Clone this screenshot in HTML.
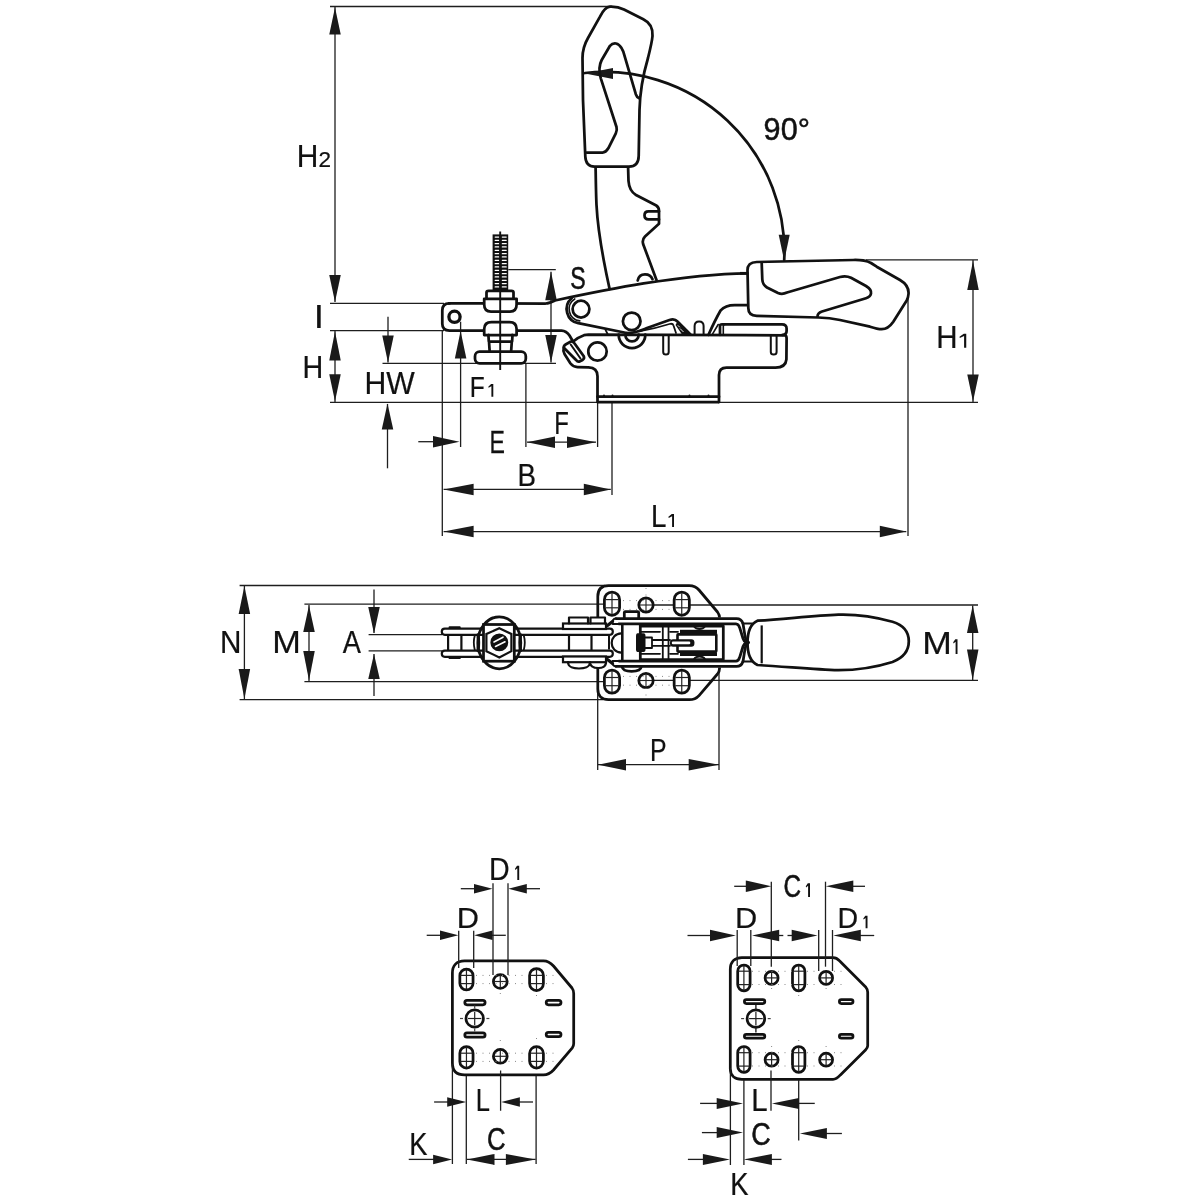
<!DOCTYPE html>
<html><head><meta charset="utf-8"><style>
html,body{margin:0;padding:0;background:#fff;}
svg{display:block;}
text{font-family:"Liberation Sans",sans-serif;}
</style></head><body>
<svg width="1200" height="1200" viewBox="0 0 1200 1200">
<rect width="1200" height="1200" fill="#fff"/>
<line x1="330" y1="6.5" x2="612" y2="6.5" stroke="#1e1e1e" stroke-width="1.3"/>
<line x1="335" y1="6.5" x2="335" y2="302" stroke="#1e1e1e" stroke-width="1.3"/>
<polygon points="335.00,7.50 329.25,34.50 340.75,34.50" fill="#1a1a1a"/>
<polygon points="335.00,302.00 329.25,275.00 340.75,275.00" fill="#1a1a1a"/>
<line x1="330" y1="303.4" x2="444" y2="303.4" stroke="#1e1e1e" stroke-width="1.3"/>
<line x1="330" y1="330.6" x2="444" y2="330.6" stroke="#1e1e1e" stroke-width="1.3"/>
<line x1="335" y1="330.6" x2="335" y2="402.3" stroke="#1e1e1e" stroke-width="1.3"/>
<polygon points="335.00,331.50 329.25,360.50 340.75,360.50" fill="#1a1a1a"/>
<polygon points="335.00,401.30 329.25,374.30 340.75,374.30" fill="#1a1a1a"/>
<line x1="330" y1="402.3" x2="978" y2="402.3" stroke="#1e1e1e" stroke-width="1.3"/>
<line x1="388" y1="316.7" x2="388" y2="362.5" stroke="#1e1e1e" stroke-width="1.3"/>
<polygon points="388.00,362.50 382.25,335.50 393.75,335.50" fill="#1a1a1a"/>
<line x1="382.5" y1="363.4" x2="556" y2="363.4" stroke="#1e1e1e" stroke-width="1.3"/>
<line x1="387.5" y1="404" x2="387.5" y2="468.3" stroke="#1e1e1e" stroke-width="1.3"/>
<polygon points="387.50,403.50 381.75,429.50 393.25,429.50" fill="#1a1a1a"/>
<line x1="460.6" y1="321.7" x2="460.6" y2="447" stroke="#1e1e1e" stroke-width="1.3"/>
<polygon points="460.60,331.00 454.85,358.50 466.35,358.50" fill="#1a1a1a"/>
<line x1="442.3" y1="330.6" x2="442.3" y2="536" stroke="#1e1e1e" stroke-width="1.3"/>
<line x1="418.3" y1="441.7" x2="433" y2="441.7" stroke="#1e1e1e" stroke-width="1.3"/>
<polygon points="459.50,441.70 433.00,435.95 433.00,447.45" fill="#1a1a1a"/>
<line x1="525.9" y1="363.4" x2="525.9" y2="447" stroke="#1e1e1e" stroke-width="1.3"/>
<line x1="597.6" y1="402" x2="597.6" y2="447" stroke="#1e1e1e" stroke-width="1.3"/>
<line x1="527" y1="442.2" x2="596" y2="442.2" stroke="#1e1e1e" stroke-width="1.3"/>
<polygon points="527.00,442.20 555.00,436.45 555.00,447.95" fill="#1a1a1a"/>
<polygon points="596.00,442.20 567.00,436.45 567.00,447.95" fill="#1a1a1a"/>
<line x1="443.6" y1="489.4" x2="610.8" y2="489.4" stroke="#1e1e1e" stroke-width="1.3"/>
<polygon points="443.60,489.40 473.60,483.65 473.60,495.15" fill="#1a1a1a"/>
<polygon points="610.80,489.40 583.80,483.65 583.80,495.15" fill="#1a1a1a"/>
<line x1="612" y1="402.6" x2="612" y2="495" stroke="#1e1e1e" stroke-width="1.3"/>
<line x1="443.6" y1="531.6" x2="906.3" y2="531.6" stroke="#1e1e1e" stroke-width="1.3"/>
<polygon points="443.60,531.60 473.60,525.85 473.60,537.35" fill="#1a1a1a"/>
<polygon points="906.30,531.60 879.80,525.85 879.80,537.35" fill="#1a1a1a"/>
<line x1="908" y1="298.5" x2="908" y2="536" stroke="#1e1e1e" stroke-width="1.3"/>
<line x1="866" y1="259.8" x2="978" y2="259.8" stroke="#1e1e1e" stroke-width="1.3"/>
<line x1="973" y1="260" x2="973" y2="402" stroke="#1e1e1e" stroke-width="1.3"/>
<polygon points="973.00,261.00 967.25,290.00 978.75,290.00" fill="#1a1a1a"/>
<polygon points="973.00,401.50 967.25,374.50 978.75,374.50" fill="#1a1a1a"/>
<line x1="508.3" y1="269.7" x2="555.8" y2="269.7" stroke="#1e1e1e" stroke-width="1.3"/>
<line x1="551" y1="271.7" x2="551" y2="362.5" stroke="#1e1e1e" stroke-width="1.3"/>
<polygon points="551.00,271.70 545.25,300.20 556.75,300.20" fill="#1a1a1a"/>
<polygon points="551.00,362.50 545.25,335.00 556.75,335.00" fill="#1a1a1a"/>
<path d="M585,73 A180 180 0 0 1 784.2,260" stroke="#111" stroke-width="2.75" fill="none" stroke-linejoin="round" stroke-linecap="round" />
<polygon points="585,73.5 613,68 613,79" fill="#1a1a1a"/>
<polygon points="784.20,260.80 778.70,234.80 789.70,234.80" fill="#1a1a1a"/>
<g fill="#111" font-family="Liberation Sans, sans-serif" style="will-change:transform">
<text transform="matrix(0.2991,0,0,0.3225,296.86,166.50)" font-size="100" stroke="#111" stroke-width="0.71">H</text>
<text transform="matrix(0.2253,0,0,0.2214,318.62,166.50)" font-size="100" stroke="#111" stroke-width="0.98">2</text>
<text transform="matrix(0.3684,0,0,0.3261,313.68,327.50)" font-size="100" stroke="#111" stroke-width="0.63">I</text>
<text transform="matrix(0.2875,0,0,0.3087,302.40,378.00)" font-size="100" stroke="#111" stroke-width="0.74">H</text>
<text transform="matrix(0.3019,0,0,0.3145,364.58,393.70)" font-size="100" stroke="#111" stroke-width="0.71">HW</text>
<text transform="matrix(0.2449,0,0,0.3029,469.74,396.70)" font-size="100" stroke="#111" stroke-width="0.80">F</text>
<path d="M491.10,384.00 L493.30,384.00 L493.30,396.70 L491.40,396.70 L491.40,386.16 L488.60,387.81 L488.30,386.67 Z" fill="#111"/>
<text transform="matrix(0.2313,0,0,0.3183,570.16,288.68)" font-size="100" stroke="#111" stroke-width="1.82">S</text>
<text transform="matrix(0.3060,0,0,0.3056,763.62,139.69)" font-size="100" stroke="#111" stroke-width="1.63">90°</text>
<text transform="matrix(0.2946,0,0,0.3217,936.14,347.70)" font-size="100" stroke="#111" stroke-width="0.71">H</text>
<path d="M963.79,333.75 L966.25,333.75 L966.25,347.70 L964.09,347.70 L964.09,336.12 L959.80,337.94 L959.50,336.68 Z" fill="#111"/>
<text transform="matrix(0.2312,0,0,0.3145,489.55,452.50)" font-size="100" stroke="#111" stroke-width="0.81">E</text>
<text transform="matrix(0.2388,0,0,0.3123,554.29,434.30)" font-size="100" stroke="#111" stroke-width="0.80">F</text>
<text transform="matrix(0.2776,0,0,0.3116,517.53,485.90)" font-size="100" stroke="#111" stroke-width="0.75">B</text>
<text transform="matrix(0.2775,0,0,0.3080,651.03,527.00)" font-size="100" stroke="#111" stroke-width="0.75">L</text>
<path d="M671.80,514.00 L674.00,514.00 L674.00,527.00 L672.10,527.00 L672.10,516.21 L668.70,517.90 L668.40,516.73 Z" fill="#111"/>
<text transform="matrix(0.2964,0,0,0.3130,220.03,652.60)" font-size="100" stroke="#111" stroke-width="0.72">N</text>
<text transform="matrix(0.3433,0,0,0.3130,272.25,652.60)" font-size="100" stroke="#111" stroke-width="0.67">M</text>
<text transform="matrix(0.2727,0,0,0.3130,342.86,652.60)" font-size="100" stroke="#111" stroke-width="0.75">A</text>
<text transform="matrix(0.3552,0,0,0.3145,922.16,653.90)" font-size="100" stroke="#111" stroke-width="0.66">M</text>
<path d="M955.30,639.20 L957.50,639.20 L957.50,653.90 L955.60,653.90 L955.60,641.70 L953.50,643.61 L953.20,642.29 Z" fill="#111"/>
<text transform="matrix(0.2486,0,0,0.3101,650.01,760.70)" font-size="100" stroke="#111" stroke-width="0.79">P</text>
<text transform="matrix(0.2857,0,0,0.3145,489.01,880.00)" font-size="100" stroke="#111" stroke-width="0.73">D</text>
<path d="M517.00,865.80 L519.20,865.80 L519.20,880.00 L517.30,880.00 L517.30,868.21 L515.30,870.06 L515.00,868.78 Z" fill="#111"/>
<text transform="matrix(0.3076,0,0,0.3014,456.74,927.50)" font-size="100" stroke="#111" stroke-width="0.72">D</text>
<text transform="matrix(0.2551,0,0,0.3043,475.86,1110.75)" font-size="100" stroke="#111" stroke-width="0.79">L</text>
<text transform="matrix(0.2579,0,0,0.3077,487.11,1149.79)" font-size="100" stroke="#111" stroke-width="1.77">C</text>
<text transform="matrix(0.2730,0,0,0.3043,409.22,1154.50)" font-size="100" stroke="#111" stroke-width="0.76">K</text>
<text transform="matrix(0.2429,0,0,0.3099,783.49,896.69)" font-size="100" stroke="#111" stroke-width="1.81">C</text>
<path d="M807.80,883.30 L810.00,883.30 L810.00,897.00 L808.10,897.00 L808.10,885.63 L806.10,887.41 L805.80,886.18 Z" fill="#111"/>
<text transform="matrix(0.3076,0,0,0.3014,735.04,928.30)" font-size="100" stroke="#111" stroke-width="0.72">D</text>
<text transform="matrix(0.2857,0,0,0.3014,837.41,928.30)" font-size="100" stroke="#111" stroke-width="0.75">D</text>
<path d="M865.30,915.80 L867.50,915.80 L867.50,928.30 L865.60,928.30 L865.60,917.92 L863.60,919.55 L863.30,918.42 Z" fill="#111"/>
<text transform="matrix(0.2944,0,0,0.3167,751.14,1110.75)" font-size="100" stroke="#111" stroke-width="0.72">L</text>
<text transform="matrix(0.2698,0,0,0.3085,751.25,1144.59)" font-size="100" stroke="#111" stroke-width="1.73">C</text>
<text transform="matrix(0.2739,0,0,0.3167,730.31,1194.75)" font-size="100" stroke="#111" stroke-width="0.75">K</text>
</g>
<path d="M610,6.7 C616,6.5 620,7.5 624,9.5 L643.3,19.2 C651,23 653,29 652.5,36 C652,42 650,50 648,58 C643,75 640,90 639.5,110 L638.7,156 C638.6,162.5 635.5,166.6 629,166.6 L594.5,166.6 C588.8,166.6 585.6,163 585.3,156.5 L583,100 L582.5,58 C582.5,50 584.5,44 588,38 L600,16.7 C603,10.5 606,7 610,6.7 Z" stroke="#111" stroke-width="2.75" fill="none" stroke-linejoin="round" stroke-linecap="round" />
<path d="M586.7,152.5 L602.5,152.5 C605,152.5 607,150.5 608.3,148.3 L615.8,133.3 C617,131 617,129 616.5,127 L600.8,78.3 C599,72 598.5,66 601.7,60 L610,45.8 C612,43.5 614,43.2 616,43.5 C618.5,44 620,45.5 621.5,48 L623.3,51.7 L635.8,94.2 C636.5,96.3 638,97.8 639.2,98.3" stroke="#111" stroke-width="2.75" fill="none" stroke-linejoin="round" stroke-linecap="round" />
<path d="M595.6,167.5 C595.8,180 596,195 596.5,205 C597.5,225 601,250 609.6,289" stroke="#111" stroke-width="2.75" fill="none" stroke-linejoin="round" stroke-linecap="round" />
<path d="M628.1,167.5 L628.5,181 C629,188 631,192 636,195 L656.25,205.5 C658.5,207 659,208.5 659,211 L659,223.75 L645,236.5 C642.5,239 642.3,241 643.1,244 L656.5,280" stroke="#111" stroke-width="2.75" fill="none" stroke-linejoin="round" stroke-linecap="round" />
<path d="M659,211.3 L648.5,211.3 C645.5,211.3 644.5,213 644.5,215.3 C644.5,217.8 645.5,219.4 648.5,219.4 L659,219.4" stroke="#111" stroke-width="2.75" fill="none" stroke-linejoin="round" stroke-linecap="round" />
<path d="M637.7,280.5 C638.5,276.5 641.5,274.3 645,274.3 C648.5,274.3 651.5,276.5 652.5,279.2" stroke="#111" stroke-width="2.75" fill="none" stroke-linejoin="round" stroke-linecap="round" />
<path d="M756.7,262 L853.3,260 C860,259.8 866,260.5 871,263 L876.7,266.7 L900,280 C906,283.5 909,288 908.5,294 C908.3,297 907.5,299 906.7,300.5 L893.3,321.7 C890,326.5 886,329.2 881.7,329.2 C878,329.2 874,328 870,326.7 L840,320 C833,318.5 826,317.7 818.3,317.5 L756.7,315.8 C751,315.6 748.3,313 748.3,308 L747.5,270 C747.5,265 751,262.2 756.7,262 Z" stroke="#111" stroke-width="2.75" fill="none" stroke-linejoin="round" stroke-linecap="round" />
<path d="M761.7,263.3 L762.3,279.5 C762.5,283 764,285.5 767,287.5 L778,293 C781,294.3 784,294 787,292.5 L840,277 C844,275.8 847.5,276 851,277.8 L866,286 C870,288.5 871.5,291 871,293.5 C870.5,296 868.5,297.5 866,298.3 L822,311.5 C819,312.5 817.5,314 817.5,316.5" stroke="#111" stroke-width="2.75" fill="none" stroke-linejoin="round" stroke-linecap="round" />
<path d="M449,303.4 L545.75,303.5 C549,303.4 551.5,302.3 555,300.5 C600,291 680,274 747.5,273.3" stroke="#111" stroke-width="2.75" fill="none" stroke-linejoin="round" stroke-linecap="round" />
<path d="M571.62,298.31 A14.3 14.3 0 0 0 578.27,323.14 L626.7,333" stroke="#111" stroke-width="2.75" fill="none" stroke-linejoin="round" stroke-linecap="round" />
<path d="M574.69,299.01 A11.9 11.9 0 0 0 579.76,320.93" stroke="#111" stroke-width="1.7" fill="none" stroke-linejoin="round" stroke-linecap="round" />
<path d="M449.5,303.4 C444.8,303.4 442.3,306.2 442.3,310.5 L442.3,323.8 C442.3,328.2 444.8,330.6 449.5,330.6 L561.5,330.6 C565,330.8 567.5,332.5 569.5,335.5 L573,341.5" stroke="#111" stroke-width="2.75" fill="none" stroke-linejoin="round" stroke-linecap="round" />
<circle cx="454.5" cy="316.8" r="5.6" stroke="#111" stroke-width="3.3" fill="none"/>
<circle cx="581" cy="309.1" r="8.4" stroke="#111" stroke-width="2.75" fill="none"/>
<circle cx="631.7" cy="321.3" r="8.8" stroke="#111" stroke-width="2.75" fill="none"/>
<circle cx="597.5" cy="351.5" r="9.2" stroke="#111" stroke-width="2.75" fill="none"/>
<path d="M618.7,334.6 C618.7,342.5 624.5,348 632,348 C639.5,348 645.3,342.5 645.3,334.6" stroke="#111" stroke-width="2.75" fill="none" stroke-linejoin="round" stroke-linecap="round" />
<path d="M625.3,334.6 C625.3,338.5 628.2,341.4 632,341.4 C635.8,341.4 638.7,338.5 638.7,334.6" stroke="#111" stroke-width="2.75" fill="none" stroke-linejoin="round" stroke-linecap="round" />
<path d="M626.7,333 C636,333 641,330.5 647,328 L669.5,320 C672.5,319 675.5,319.3 677.5,321.5 L690.5,334.5" stroke="#111" stroke-width="2.75" fill="none" stroke-linejoin="round" stroke-linecap="round" />
<path d="M640,331.2 C650,329.5 660,327 669.5,324 C671.5,323.5 673,323.8 673.5,325.5 L676,333" stroke="#111" stroke-width="1.8" fill="none" stroke-linejoin="round" stroke-linecap="round" />
<path d="M677.5,321.5 L690.5,334.5 L682,334.5 L675.5,325 Z" fill="#111"/>
<path d="M680,328.5 L683.5,332 M677.8,325.3 L679.8,327.3" stroke="#fff" stroke-width="0.9"/>
<path d="M605.5,329.8 L607.8,334.5" stroke="#111" stroke-width="1.8" fill="none" stroke-linejoin="round" stroke-linecap="round" />
<path d="M572.8,341.8 C576,339 580,336.5 584,335.2 L588.5,334.6 L785,335.3 C786.2,335.5 786.6,336.5 786.6,338.5 L786.4,359.3 C786,364.5 782,367.5 775.5,367.5 L726.5,367.5 C721.5,367.5 719,370.5 719,375 L719,402" stroke="#111" stroke-width="2.75" fill="none" stroke-linejoin="round" stroke-linecap="round" />
<path d="M563.8,347.8 C563,350 563.5,352 564.5,354 L570.5,363.5 C572.5,366 574.5,367 577.5,367.1 L588.5,367.3 C594,367.4 597.5,370.5 597.5,376.3 L597.5,402" stroke="#111" stroke-width="2.75" fill="none" stroke-linejoin="round" stroke-linecap="round" />
<path d="M563.8,347.8 C563.5,346 564.5,345 566,344.2 L570.5,341.8 C572,341.1 573.3,341.5 574.2,343 L583.6,356 C584.4,357.5 584,359 582.6,360 L580,361.3 C578.6,362 577.3,361.7 576.3,360.3 Z" stroke="#111" stroke-width="2.75" fill="none" stroke-linejoin="round" stroke-linecap="round" />
<path d="M570.7,344.5 L580.5,358.5" stroke="#111" stroke-width="2.0" fill="none" stroke-linejoin="round" stroke-linecap="round" />
<path d="M597.5,396.7 L719,396.7" stroke="#111" stroke-width="2.75" fill="none" stroke-linejoin="round" stroke-linecap="round" />
<g fill="#111"><circle cx="604" cy="395.6" r="1"/><circle cx="612.5" cy="395.6" r="1"/><circle cx="689.5" cy="395.6" r="1"/><circle cx="708.5" cy="395.6" r="1"/></g>
<line x1="597.5" y1="402.2" x2="719" y2="402.2" stroke="#111" stroke-width="2.75"/>
<path d="M720,334.8 L720,325.5 C720,324.6 720.8,324.3 722,324.3 L782,324.3 C785.5,324.3 786.6,325.8 786.6,328.5 L786.6,331 C786.6,333.5 785.5,334.8 782.5,334.8" stroke="#111" stroke-width="2.75" fill="none" stroke-linejoin="round" stroke-linecap="round" />
<path d="M723.3,334.5 L723.3,326.5 C723.3,325.2 724,324.5 725,324.5" stroke="#111" stroke-width="1.6" fill="none" stroke-linejoin="round" stroke-linecap="round" />
<path d="M663.2,335.8 L663.2,352 C663.2,353.8 664.5,354.5 666,354.5 C667.5,354.5 668.7,353.8 668.7,352 L668.7,335.8" stroke="#111" stroke-width="2.0" fill="none" stroke-linejoin="round" stroke-linecap="round" />
<path d="M770.8,335.8 L770.8,352 C770.8,353.8 772,354.5 773.7,354.5 C775.4,354.5 776.6,353.8 776.6,352 L776.6,335.8" stroke="#111" stroke-width="2.0" fill="none" stroke-linejoin="round" stroke-linecap="round" />
<path d="M694.6,334.8 L694.6,326 C694.6,323 696.5,321.4 699.1,321.4 C701.7,321.4 703.6,323 703.6,326 L703.6,334.8" stroke="#111" stroke-width="2.0" fill="none" stroke-linejoin="round" stroke-linecap="round" />
<path d="M708.5,334.8 C712,327 716,318.5 720.7,310.3 C724,306.5 728.5,305 734.7,305 L747.3,305" stroke="#111" stroke-width="2.75" fill="none" stroke-linejoin="round" stroke-linecap="round" />
<path d="M712,334.8 L718.2,324.5" stroke="#111" stroke-width="1.6" fill="none" stroke-linejoin="round" stroke-linecap="round" />
<line x1="740" y1="273.3" x2="747.5" y2="273.3" stroke="#111" stroke-width="2.75"/>
<rect x="492.6" y="234.4" width="15.6" height="56.4" fill="#111"/>
<g stroke="#fff" stroke-width="1.25" stroke-linecap="round">
<line x1="495.2" y1="237.00" x2="498.8" y2="237.00"/><line x1="502.3" y1="237.00" x2="506.2" y2="237.00"/>
<line x1="495.2" y1="240.33" x2="498.8" y2="240.33"/><line x1="502.3" y1="240.33" x2="506.2" y2="240.33"/>
<line x1="495.2" y1="243.66" x2="498.8" y2="243.66"/><line x1="502.3" y1="243.66" x2="506.2" y2="243.66"/>
<line x1="495.2" y1="246.99" x2="498.8" y2="246.99"/><line x1="502.3" y1="246.99" x2="506.2" y2="246.99"/>
<line x1="495.2" y1="250.32" x2="498.8" y2="250.32"/><line x1="502.3" y1="250.32" x2="506.2" y2="250.32"/>
<line x1="495.2" y1="253.65" x2="498.8" y2="253.65"/><line x1="502.3" y1="253.65" x2="506.2" y2="253.65"/>
<line x1="495.2" y1="256.98" x2="498.8" y2="256.98"/><line x1="502.3" y1="256.98" x2="506.2" y2="256.98"/>
<line x1="495.2" y1="260.31" x2="498.8" y2="260.31"/><line x1="502.3" y1="260.31" x2="506.2" y2="260.31"/>
<line x1="495.2" y1="263.64" x2="498.8" y2="263.64"/><line x1="502.3" y1="263.64" x2="506.2" y2="263.64"/>
<line x1="495.2" y1="266.97" x2="498.8" y2="266.97"/><line x1="502.3" y1="266.97" x2="506.2" y2="266.97"/>
<line x1="495.2" y1="270.30" x2="498.8" y2="270.30"/><line x1="502.3" y1="270.30" x2="506.2" y2="270.30"/>
<line x1="495.2" y1="273.63" x2="498.8" y2="273.63"/><line x1="502.3" y1="273.63" x2="506.2" y2="273.63"/>
<line x1="495.2" y1="276.96" x2="498.8" y2="276.96"/><line x1="502.3" y1="276.96" x2="506.2" y2="276.96"/>
<line x1="495.2" y1="280.29" x2="498.8" y2="280.29"/><line x1="502.3" y1="280.29" x2="506.2" y2="280.29"/>
<line x1="495.2" y1="283.62" x2="498.8" y2="283.62"/><line x1="502.3" y1="283.62" x2="506.2" y2="283.62"/>
<line x1="495.2" y1="286.95" x2="498.8" y2="286.95"/><line x1="502.3" y1="286.95" x2="506.2" y2="286.95"/>
</g>
<path d="M486.5,298.8 L486.5,292.5 C486.5,291.3 487.3,290.8 488.5,290.8 L511.5,290.8 C512.7,290.8 513.5,291.3 513.5,292.5 L513.5,298.8" stroke="#111" stroke-width="2.75" fill="#fff" stroke-linejoin="round" stroke-linecap="round" />
<path d="M484.2,298.8 L516.6,298.8 L516.6,304.5 C516.6,309 514.5,311.6 510,311.6 L491,311.6 C486.5,311.6 484.2,309 484.2,304.5 Z" stroke="#111" stroke-width="2.75" fill="#fff" stroke-linejoin="round" stroke-linecap="round" />
<path d="M484.2,335 L484.2,329 C484.2,324.5 487,322 491.5,322 L509.5,322 C514,322 516.6,324.5 516.6,329 L516.6,335 Z" stroke="#111" stroke-width="2.75" fill="#fff" stroke-linejoin="round" stroke-linecap="round" />
<path d="M488.4,335 L488.8,341.5 L512.1,341.5 L512.5,335 M489,341.5 L489.6,350.5 M511.8,341.5 L511.2,350.5" stroke="#111" stroke-width="2.75" fill="none" stroke-linejoin="round" stroke-linecap="round" />
<rect x="475" y="351.7" width="50.799999999999955" height="11.600000000000023" rx="4.5" stroke="#111" stroke-width="2.75" fill="none"/>
<line x1="500.2" y1="231.5" x2="500.2" y2="370" stroke="#111" stroke-width="1.9"/>
<line x1="239.6" y1="585.5" x2="605" y2="585.5" stroke="#1e1e1e" stroke-width="1.3"/>
<line x1="239.6" y1="699.7" x2="603" y2="699.7" stroke="#1e1e1e" stroke-width="1.3"/>
<line x1="244.4" y1="586" x2="244.4" y2="699" stroke="#1e1e1e" stroke-width="1.3"/>
<polygon points="244.40,586.00 238.65,614.00 250.15,614.00" fill="#1a1a1a"/>
<polygon points="244.40,699.00 238.65,669.00 250.15,669.00" fill="#1a1a1a"/>
<line x1="304.4" y1="604.2" x2="606" y2="604.2" stroke="#1e1e1e" stroke-width="1.3"/>
<line x1="304.4" y1="681.6" x2="606" y2="681.6" stroke="#1e1e1e" stroke-width="1.3"/>
<line x1="309" y1="605" x2="309" y2="681" stroke="#1e1e1e" stroke-width="1.3"/>
<polygon points="309.00,605.50 303.25,632.00 314.75,632.00" fill="#1a1a1a"/>
<polygon points="309.00,680.60 303.25,651.10 314.75,651.10" fill="#1a1a1a"/>
<line x1="368.6" y1="634.6" x2="442" y2="634.6" stroke="#1e1e1e" stroke-width="1.3"/>
<line x1="368.6" y1="650.8" x2="442" y2="650.8" stroke="#1e1e1e" stroke-width="1.3"/>
<line x1="374" y1="589.4" x2="374" y2="633" stroke="#1e1e1e" stroke-width="1.3"/>
<polygon points="374.00,633.50 368.25,607.00 379.75,607.00" fill="#1a1a1a"/>
<line x1="374" y1="654" x2="374" y2="696" stroke="#1e1e1e" stroke-width="1.3"/>
<polygon points="374.00,654.00 368.25,679.00 379.75,679.00" fill="#1a1a1a"/>
<line x1="653.75" y1="605" x2="978" y2="605" stroke="#1e1e1e" stroke-width="1.3"/>
<line x1="653.75" y1="680.4" x2="978" y2="680.4" stroke="#1e1e1e" stroke-width="1.3"/>
<line x1="972.7" y1="605.5" x2="972.7" y2="680" stroke="#1e1e1e" stroke-width="1.3"/>
<polygon points="972.70,605.50 966.95,633.00 978.45,633.00" fill="#1a1a1a"/>
<polygon points="972.70,680.00 966.95,649.50 978.45,649.50" fill="#1a1a1a"/>
<line x1="597.7" y1="690" x2="597.7" y2="770" stroke="#1e1e1e" stroke-width="1.3"/>
<line x1="719" y1="665.7" x2="719" y2="770" stroke="#1e1e1e" stroke-width="1.3"/>
<line x1="598" y1="764.7" x2="719" y2="764.7" stroke="#1e1e1e" stroke-width="1.3"/>
<polygon points="598.00,764.70 626.00,758.95 626.00,770.45" fill="#1a1a1a"/>
<polygon points="719.00,764.70 688.70,758.95 688.70,770.45" fill="#1a1a1a"/>
<path d="M608.5,585.6 L689.2,585.6 C693.5,585.6 696.5,587 699,590 L717.5,612 C719,614 719.6,615.5 719.6,618 L719.6,668 C719.6,670.5 719,672 717.5,674 L699,695.6 C696.5,698.4 693.5,699.7 689.2,699.7 L608.5,699.7 C601.5,699.7 597.8,695.5 597.8,689 L597.8,596.5 C597.8,589.5 601.5,585.6 608.5,585.6 Z" stroke="#111" stroke-width="2.75" fill="none" stroke-linejoin="round" stroke-linecap="round" />
<rect x="604.4" y="592.1" width="15.2" height="23.2" rx="7.6" stroke="#111" stroke-width="2.75" fill="white"/>
<line x1="612" y1="593.2" x2="612" y2="614.2" stroke="#222" stroke-width="1.2"/>
<line x1="605.5" y1="599.6" x2="618.5" y2="599.6" stroke="#222" stroke-width="1.2"/>
<line x1="605.5" y1="607.8000000000001" x2="618.5" y2="607.8000000000001" stroke="#222" stroke-width="1.2"/>
<rect x="604.4" y="670.0" width="15.2" height="23.2" rx="7.6" stroke="#111" stroke-width="2.75" fill="white"/>
<line x1="612" y1="671.1" x2="612" y2="692.1" stroke="#222" stroke-width="1.2"/>
<line x1="605.5" y1="677.5" x2="618.5" y2="677.5" stroke="#222" stroke-width="1.2"/>
<line x1="605.5" y1="685.7" x2="618.5" y2="685.7" stroke="#222" stroke-width="1.2"/>
<rect x="674.15" y="592.1" width="15.2" height="23.2" rx="7.6" stroke="#111" stroke-width="2.75" fill="white"/>
<line x1="681.75" y1="593.2" x2="681.75" y2="614.2" stroke="#222" stroke-width="1.2"/>
<line x1="675.25" y1="599.6" x2="688.25" y2="599.6" stroke="#222" stroke-width="1.2"/>
<line x1="675.25" y1="607.8000000000001" x2="688.25" y2="607.8000000000001" stroke="#222" stroke-width="1.2"/>
<rect x="674.15" y="670.0" width="15.2" height="23.2" rx="7.6" stroke="#111" stroke-width="2.75" fill="white"/>
<line x1="681.75" y1="671.1" x2="681.75" y2="692.1" stroke="#222" stroke-width="1.2"/>
<line x1="675.25" y1="677.5" x2="688.25" y2="677.5" stroke="#222" stroke-width="1.2"/>
<line x1="675.25" y1="685.7" x2="688.25" y2="685.7" stroke="#222" stroke-width="1.2"/>
<circle cx="646" cy="605" r="7.2" stroke="#111" stroke-width="2.75" fill="none"/>
<line x1="646" y1="599" x2="646" y2="611" stroke="#222" stroke-width="1.1"/>
<line x1="640" y1="605" x2="652" y2="605" stroke="#222" stroke-width="1.1"/>
<circle cx="646" cy="680.5" r="7.2" stroke="#111" stroke-width="2.75" fill="none"/>
<line x1="646" y1="674.5" x2="646" y2="686.5" stroke="#222" stroke-width="1.1"/>
<line x1="640" y1="680.5" x2="652" y2="680.5" stroke="#222" stroke-width="1.1"/>
<rect x="596" y="617.5" width="149.5" height="50" fill="#fff"/>
<path d="M616,618.6 L736.5,618.6 C740,618.6 742,620.5 743,623.5 L745,636 C745.5,639 746.5,641 748.5,642.3" stroke="#111" stroke-width="2.75" fill="none" stroke-linejoin="round" stroke-linecap="round" />
<path d="M619,623.9 L736,623.9 C738,624 739,625.5 739.8,628 L743,638.5 C743.6,640.5 744.5,641.5 746,642.3" stroke="#111" stroke-width="2.75" fill="none" stroke-linejoin="round" stroke-linecap="round" />
<path d="M616,666.4 L736.5,666.4 C740,666.4 742,664.5 743,661.5 L745,649 C745.5,646 746.5,644 748.5,642.7" stroke="#111" stroke-width="2.75" fill="none" stroke-linejoin="round" stroke-linecap="round" />
<path d="M619,661.1 L736,661.1 C738,661 739,659.5 739.8,657 L743,646.5 C743.6,644.5 744.5,643.5 746,642.7" stroke="#111" stroke-width="2.75" fill="none" stroke-linejoin="round" stroke-linecap="round" />
<path d="M616,618.6 C613,618.6 612,621 612.5,623.9 L619,623.9 M616,666.4 C613,666.4 612,664 612.5,661.1 L619,661.1" stroke="#111" stroke-width="2.0" fill="none" stroke-linejoin="round" stroke-linecap="round" />
<path d="M624.3,618.6 L624.3,612.5 C624.3,611.9 624.6,611.7 625.3,611.7 L637.7,611.7 C638.4,611.7 638.7,612 638.7,612.6 L638.7,618.6" stroke="#111" stroke-width="2.75" fill="none" stroke-linejoin="round" stroke-linecap="round" />
<path d="M622,666.6 C622.5,670 627,671.3 631.6,671.3 C636.3,671.3 641,670 641.3,666.6" stroke="#111" stroke-width="2.75" fill="none" stroke-linejoin="round" stroke-linecap="round" />
<path d="M742.5,623.4 L752,623.4 M742.5,661.6 L752,661.6" stroke="#111" stroke-width="2.0" fill="none" stroke-linejoin="round" stroke-linecap="round" />
<line x1="622.3" y1="625" x2="622.3" y2="660.8" stroke="#111" stroke-width="2.6"/>
<line x1="640.3" y1="625" x2="640.3" y2="660.8" stroke="#111" stroke-width="2.75"/>
<path d="M640.3,626 L723.3,626 L723.3,659.5 L640.3,659.5" stroke="#111" stroke-width="2.75" fill="none" stroke-linejoin="round" stroke-linecap="round" />
<rect x="680" y="629.8" width="37" height="4" fill="#111"/>
<rect x="680" y="652.2" width="37" height="3.8" fill="#111"/>
<path d="M640.3,631.8 L660,631.8 M670,631.8 L678,631.8 M640.3,653.8 L660,653.8 M670,653.8 L678,653.8" stroke="#111" stroke-width="1.8" fill="none" stroke-linejoin="round" stroke-linecap="round" />
<rect x="677.5" y="634.4" width="38.799999999999955" height="17.200000000000045" rx="0.5" stroke="#111" stroke-width="2.6" fill="none"/>
<line x1="662.8" y1="626" x2="662.8" y2="659.5" stroke="#111" stroke-width="1.8"/>
<line x1="668.5" y1="626" x2="668.5" y2="659.5" stroke="#111" stroke-width="1.8"/>
<path d="M637.5,633.3 L643.5,633.3 C645,633.3 645.5,634.5 645.5,636 L645.5,649.5 C645.5,651 645,652 643.5,652 L637.5,652 C636.5,652 636,651 636,649.5 L636,636 C636,634.5 636.5,633.3 637.5,633.3 Z" fill="#111"/>
<path d="M645.5,637.5 L652,637.5 L652,648 L645.5,648 M652,640 L670,640 M652,645.8 L670,645.8" stroke="#111" stroke-width="1.8" fill="none" stroke-linejoin="round" stroke-linecap="round" />
<rect x="670" y="639.2" width="24.4" height="7.6" rx="3" fill="#111"/>
<rect x="671.8" y="641.6" width="18.5" height="2.6" rx="1.2" fill="#fff"/>
<path d="M694,626.5 C695.5,628.5 697.5,629 699.5,629 C701.5,629 703.5,628.5 705,626.5 M694,659 C695.5,657 697.5,656.5 699.5,656.5 C701.5,656.5 703.5,657 705,659" stroke="#111" stroke-width="1.8" fill="none" stroke-linejoin="round" stroke-linecap="round" />
<path d="M621.3,633.3 C615.5,633.5 611.7,637.5 611.7,643 C611.7,648.5 615.5,652.5 621.3,652.7" stroke="#111" stroke-width="2.2" fill="none" stroke-linejoin="round" stroke-linecap="round" />
<line x1="609" y1="636" x2="609" y2="649.5" stroke="#111" stroke-width="2.0"/>
<path d="M607.5,625.5 L612.5,621.5 M607.5,659.5 L612.5,663.5" stroke="#111" stroke-width="3.2" fill="none" stroke-linejoin="round" stroke-linecap="round" />
<path d="M757.5,620.7 C790,618.5 815,615.5 838.3,614.7 C855,614.2 872,616 892.5,621.8 C903,625 908.8,632 908.8,641.3 C908.8,651 903,658 892.5,662 C872,668.5 855,670.2 838.3,670.2 C815,669.5 790,667 757.5,665 C751,662 747.5,654 747.5,643 C747.5,632 751,623.5 757.5,620.7 Z" stroke="#111" stroke-width="2.75" fill="none" stroke-linejoin="round" stroke-linecap="round" />
<line x1="761.7" y1="625.4" x2="761.7" y2="663.3" stroke="#111" stroke-width="2.2"/>
<rect x="441.8" y="628.6" width="171" height="6.2" rx="3" stroke="#111" stroke-width="2.2" fill="white"/>
<rect x="441.8" y="650.6" width="171" height="6.2" rx="3" stroke="#111" stroke-width="2.2" fill="white"/>
<path d="M449.5,628 L449.5,627.2 L459.8,627.2 L459.8,628 M449.5,657.4 L449.5,658.2 L459.8,658.2 L459.8,657.4" stroke="#111" stroke-width="1.8" fill="none" stroke-linejoin="round" stroke-linecap="round" />
<line x1="448.1" y1="634.8" x2="448.1" y2="650.6" stroke="#111" stroke-width="2.2"/>
<line x1="461.4" y1="634.8" x2="461.4" y2="650.6" stroke="#111" stroke-width="2.2"/>
<ellipse cx="499.3" cy="642.8" rx="21.5" ry="26" stroke="#111" stroke-width="2.75" fill="none"/>
<path d="M474.8,635.5 C473.5,640 473.5,645 474.8,650 M523.8,635.5 C525.1,640 525.1,645 523.8,650" stroke="#111" stroke-width="1.8" fill="none" stroke-linejoin="round" stroke-linecap="round" />
<rect x="483.5" y="624.5" width="30.8" height="36.7" stroke="#111" stroke-width="2.75" fill="white"/>
<polygon points="499.3,628.3 511.4,634 511.4,651.2 499.3,657.4 486.4,651.2 486.4,634" stroke="#111" stroke-width="2.2" fill="white"/>
<circle cx="499.3" cy="642.4" r="8.2" stroke="#111" stroke-width="1.5" fill="#111"/>
<path d="M494,642 L503,637.2 M495.5,646.5 L505,641.8" stroke="#fff" stroke-width="1.6" stroke-linecap="round"/>
<path d="M478,634.8 C478.5,638 478.5,647 478,650.6 M520.5,634.8 C520,638 520,647 520.5,650.6" stroke="#111" stroke-width="3.2" fill="none" stroke-linejoin="round" stroke-linecap="round" />
<rect x="563" y="623.5" width="43" height="5.5" stroke="#111" stroke-width="2.2" fill="white"/>
<rect x="563" y="656.5" width="43" height="5.7" stroke="#111" stroke-width="2.2" fill="white"/>
<path d="M569,623.5 L569,617.5 L588,617.5 L588,623.5 M590.5,623.5 L590.5,617.5 L605,617.5 L605,623.5" stroke="#111" stroke-width="2.2" fill="none" stroke-linejoin="round" stroke-linecap="round" />
<path d="M568,662.2 C568,667 574,668.5 579,668.5 C584,668.5 590,667 590,662.2 C590,667 595,668 598.5,668 C602,668 606,666.5 606,662.2" stroke="#111" stroke-width="2.2" fill="none" stroke-linejoin="round" stroke-linecap="round" />
<line x1="569" y1="634.8" x2="569" y2="650.6" stroke="#111" stroke-width="2.2"/>
<line x1="591.5" y1="634.8" x2="591.5" y2="650.6" stroke="#111" stroke-width="2.2"/>
<path d="M464.5,960.8 L543.5,960.8 C547.5,960.8 550.5,962.5 553.5,966 L572,988 C573.3,989.7 573.7,991 573.7,993.5 L573.7,1043.5 C573.7,1045.5 573.3,1046.5 572.3,1047.8 L553.5,1070 C550.5,1073.3 547.5,1074.9 543.5,1074.9 L464.5,1074.9 C456.5,1074.9 452.4,1070.5 452.4,1063 L452.4,973 C452.4,965.5 456.5,960.8 464.5,960.8 Z" stroke="#111" stroke-width="2.75" fill="none" stroke-linejoin="round" stroke-linecap="round" />
<rect x="459.85" y="969.10" width="13.20" height="20.80" rx="6.60" stroke="#111" stroke-width="2.75" fill="none"/>
<line x1="466.45" y1="969.6" x2="466.45" y2="989.4" stroke="#222" stroke-width="1.2"/>
<line x1="460.34999999999997" y1="975.4" x2="472.55" y2="975.4" stroke="#222" stroke-width="1.2"/>
<line x1="460.34999999999997" y1="983.6" x2="472.55" y2="983.6" stroke="#222" stroke-width="1.2"/>
<rect x="529.60" y="968.50" width="13.80" height="22.00" rx="6.90" stroke="#111" stroke-width="2.75" fill="none"/>
<line x1="536.5" y1="969.0" x2="536.5" y2="990.0" stroke="#222" stroke-width="1.2"/>
<line x1="530.1" y1="975.4" x2="542.9" y2="975.4" stroke="#222" stroke-width="1.2"/>
<line x1="530.1" y1="983.6" x2="542.9" y2="983.6" stroke="#222" stroke-width="1.2"/>
<rect x="459.85" y="1046.60" width="13.20" height="21.40" rx="6.60" stroke="#111" stroke-width="2.75" fill="none"/>
<line x1="466.45" y1="1047.1" x2="466.45" y2="1067.5" stroke="#222" stroke-width="1.2"/>
<line x1="460.34999999999997" y1="1053.2" x2="472.55" y2="1053.2" stroke="#222" stroke-width="1.2"/>
<line x1="460.34999999999997" y1="1061.3999999999999" x2="472.55" y2="1061.3999999999999" stroke="#222" stroke-width="1.2"/>
<rect x="529.60" y="1046.60" width="13.80" height="21.40" rx="6.90" stroke="#111" stroke-width="2.75" fill="none"/>
<line x1="536.5" y1="1047.1" x2="536.5" y2="1067.5" stroke="#222" stroke-width="1.2"/>
<line x1="530.1" y1="1053.2" x2="542.9" y2="1053.2" stroke="#222" stroke-width="1.2"/>
<line x1="530.1" y1="1061.3999999999999" x2="542.9" y2="1061.3999999999999" stroke="#222" stroke-width="1.2"/>
<circle cx="500.3" cy="981.5" r="6.9" stroke="#111" stroke-width="2.75" fill="none"/>
<line x1="500.3" y1="975.1" x2="500.3" y2="987.9" stroke="#222" stroke-width="1.2"/>
<line x1="493.90000000000003" y1="981.5" x2="506.7" y2="981.5" stroke="#222" stroke-width="1.2"/>
<circle cx="500.3" cy="1056.3" r="6.9" stroke="#111" stroke-width="2.75" fill="none"/>
<line x1="500.3" y1="1049.8999999999999" x2="500.3" y2="1062.7" stroke="#222" stroke-width="1.2"/>
<line x1="493.90000000000003" y1="1056.3" x2="506.7" y2="1056.3" stroke="#222" stroke-width="1.2"/>
<rect x="464.8" y="1000.4" width="20.30000000000001" height="4.399999999999977" rx="2.1999999999999886" stroke="#111" stroke-width="2.75" fill="none"/>
<rect x="546.2" y="1000.4" width="14.799999999999955" height="4.399999999999977" rx="2.1999999999999886" stroke="#111" stroke-width="2.75" fill="none"/>
<rect x="464.8" y="1032.9" width="20.30000000000001" height="4.2999999999999545" rx="2.1499999999999773" stroke="#111" stroke-width="2.75" fill="none"/>
<rect x="546.2" y="1032.3" width="14.799999999999955" height="4.2999999999999545" rx="2.1499999999999773" stroke="#111" stroke-width="2.75" fill="none"/>
<circle cx="474.7" cy="1018.5" r="8.7" stroke="#111" stroke-width="2.75" fill="none"/>
<line x1="474.7" y1="1011.8" x2="474.7" y2="1025.2" stroke="#222" stroke-width="1.2"/>
<line x1="468.0" y1="1018.5" x2="481.4" y2="1018.5" stroke="#222" stroke-width="1.2"/>
<line x1="460.0" y1="1018.5" x2="463.0" y2="1018.5" stroke="#444" stroke-width="1.2"/>
<line x1="486.4" y1="1018.5" x2="489.4" y2="1018.5" stroke="#444" stroke-width="1.2"/>
<line x1="474.7" y1="1005.5" x2="474.7" y2="1008.5" stroke="#444" stroke-width="1.2"/>
<line x1="474.7" y1="1028.5" x2="474.7" y2="1031.5" stroke="#444" stroke-width="1.2"/>
<path d="M741.8,957.5 L833.1,957.5 C836,957.5 837.5,958.5 839.2,960.5 L865.9,987.3 C867.2,988.8 867.7,990 867.7,992.2 L867.7,1045.7 C867.7,1047.5 867,1048.5 865.5,1050 L840.4,1074.9 C838,1077.5 836,1079.3 833.1,1079.3 L741.8,1079.3 C734.5,1079.3 730.3,1075 730.3,1068.8 L730.3,969 C730.3,962 734.5,957.5 741.8,957.5 Z" stroke="#111" stroke-width="2.75" fill="none" stroke-linejoin="round" stroke-linecap="round" />
<rect x="737.70" y="965.00" width="12.40" height="25.80" rx="6.20" stroke="#111" stroke-width="2.75" fill="none"/>
<line x1="743.9" y1="965.5" x2="743.9" y2="990.3" stroke="#222" stroke-width="1.2"/>
<line x1="738.1999999999999" y1="971.1999999999999" x2="749.6" y2="971.1999999999999" stroke="#222" stroke-width="1.2"/>
<line x1="738.1999999999999" y1="984.6" x2="749.6" y2="984.6" stroke="#222" stroke-width="1.2"/>
<rect x="792.50" y="965.00" width="12.40" height="25.80" rx="6.20" stroke="#111" stroke-width="2.75" fill="none"/>
<line x1="798.7" y1="965.5" x2="798.7" y2="990.3" stroke="#222" stroke-width="1.2"/>
<line x1="793.0" y1="971.1999999999999" x2="804.4000000000001" y2="971.1999999999999" stroke="#222" stroke-width="1.2"/>
<line x1="793.0" y1="984.6" x2="804.4000000000001" y2="984.6" stroke="#222" stroke-width="1.2"/>
<rect x="737.70" y="1046.50" width="12.40" height="25.80" rx="6.20" stroke="#111" stroke-width="2.75" fill="none"/>
<line x1="743.9" y1="1047.0" x2="743.9" y2="1071.8000000000002" stroke="#222" stroke-width="1.2"/>
<line x1="738.1999999999999" y1="1052.7" x2="749.6" y2="1052.7" stroke="#222" stroke-width="1.2"/>
<line x1="738.1999999999999" y1="1066.1000000000001" x2="749.6" y2="1066.1000000000001" stroke="#222" stroke-width="1.2"/>
<rect x="792.50" y="1046.50" width="12.40" height="25.80" rx="6.20" stroke="#111" stroke-width="2.75" fill="none"/>
<line x1="798.7" y1="1047.0" x2="798.7" y2="1071.8000000000002" stroke="#222" stroke-width="1.2"/>
<line x1="793.0" y1="1052.7" x2="804.4000000000001" y2="1052.7" stroke="#222" stroke-width="1.2"/>
<line x1="793.0" y1="1066.1000000000001" x2="804.4000000000001" y2="1066.1000000000001" stroke="#222" stroke-width="1.2"/>
<circle cx="771.6" cy="977.9" r="6.5" stroke="#111" stroke-width="2.75" fill="none"/>
<line x1="771.6" y1="971.9" x2="771.6" y2="983.9" stroke="#222" stroke-width="1.2"/>
<line x1="765.6" y1="977.9" x2="777.6" y2="977.9" stroke="#222" stroke-width="1.2"/>
<circle cx="826.1" cy="977.9" r="6.5" stroke="#111" stroke-width="2.75" fill="none"/>
<line x1="826.1" y1="971.9" x2="826.1" y2="983.9" stroke="#222" stroke-width="1.2"/>
<line x1="820.1" y1="977.9" x2="832.1" y2="977.9" stroke="#222" stroke-width="1.2"/>
<circle cx="771.6" cy="1059.7" r="6.5" stroke="#111" stroke-width="2.75" fill="none"/>
<line x1="771.6" y1="1053.7" x2="771.6" y2="1065.7" stroke="#222" stroke-width="1.2"/>
<line x1="765.6" y1="1059.7" x2="777.6" y2="1059.7" stroke="#222" stroke-width="1.2"/>
<circle cx="826.1" cy="1059.7" r="6.5" stroke="#111" stroke-width="2.75" fill="none"/>
<line x1="826.1" y1="1053.7" x2="826.1" y2="1065.7" stroke="#222" stroke-width="1.2"/>
<line x1="820.1" y1="1059.7" x2="832.1" y2="1059.7" stroke="#222" stroke-width="1.2"/>
<rect x="744.4" y="999.6" width="20.399999999999977" height="3.8999999999999773" rx="1.9499999999999886" stroke="#111" stroke-width="2.75" fill="none"/>
<rect x="839.4" y="999.6" width="13.600000000000023" height="3.8999999999999773" rx="1.9499999999999886" stroke="#111" stroke-width="2.75" fill="none"/>
<rect x="744.4" y="1034.3" width="20.399999999999977" height="3.900000000000091" rx="1.9500000000000455" stroke="#111" stroke-width="2.75" fill="none"/>
<rect x="839.4" y="1034.3" width="13.600000000000023" height="3.900000000000091" rx="1.9500000000000455" stroke="#111" stroke-width="2.75" fill="none"/>
<circle cx="755.9" cy="1018.6" r="8.8" stroke="#111" stroke-width="2.75" fill="none"/>
<line x1="755.9" y1="1011.8000000000001" x2="755.9" y2="1025.4" stroke="#222" stroke-width="1.2"/>
<line x1="749.1" y1="1018.6" x2="762.6999999999999" y2="1018.6" stroke="#222" stroke-width="1.2"/>
<line x1="741.1" y1="1018.6" x2="744.1" y2="1018.6" stroke="#444" stroke-width="1.2"/>
<line x1="767.6999999999999" y1="1018.6" x2="770.6999999999999" y2="1018.6" stroke="#444" stroke-width="1.2"/>
<line x1="755.9" y1="1005" x2="755.9" y2="1009.8" stroke="#222" stroke-width="1.4"/>
<line x1="755.9" y1="1027.4" x2="755.9" y2="1032.5" stroke="#222" stroke-width="1.4"/>
<line x1="476" y1="975.4" x2="527" y2="975.4" stroke="#8a8a8a" stroke-width="1" stroke-dasharray="1 5.5"/>
<line x1="546" y1="975.4" x2="556" y2="975.4" stroke="#8a8a8a" stroke-width="1" stroke-dasharray="1 5.5"/>
<line x1="476" y1="983.6" x2="527" y2="983.6" stroke="#8a8a8a" stroke-width="1" stroke-dasharray="1 5.5"/>
<line x1="546" y1="983.6" x2="556" y2="983.6" stroke="#8a8a8a" stroke-width="1" stroke-dasharray="1 5.5"/>
<line x1="476" y1="1053.2" x2="527" y2="1053.2" stroke="#8a8a8a" stroke-width="1" stroke-dasharray="1 5.5"/>
<line x1="546" y1="1053.2" x2="556" y2="1053.2" stroke="#8a8a8a" stroke-width="1" stroke-dasharray="1 5.5"/>
<line x1="476" y1="1061.4" x2="527" y2="1061.4" stroke="#8a8a8a" stroke-width="1" stroke-dasharray="1 5.5"/>
<line x1="546" y1="1061.4" x2="556" y2="1061.4" stroke="#8a8a8a" stroke-width="1" stroke-dasharray="1 5.5"/>
<line x1="500.3" y1="993" x2="500.3" y2="997" stroke="#8a8a8a" stroke-width="1" stroke-dasharray="1 5.5"/>
<line x1="500.3" y1="1040" x2="500.3" y2="1045" stroke="#8a8a8a" stroke-width="1" stroke-dasharray="1 5.5"/>
<line x1="536.5" y1="995" x2="536.5" y2="998" stroke="#8a8a8a" stroke-width="1" stroke-dasharray="1 5.5"/>
<line x1="536.5" y1="1038" x2="536.5" y2="1041" stroke="#8a8a8a" stroke-width="1" stroke-dasharray="1 5.5"/>
<line x1="752" y1="971.3" x2="792" y2="971.3" stroke="#8a8a8a" stroke-width="1" stroke-dasharray="1 5.5"/>
<line x1="807" y1="971.3" x2="819" y2="971.3" stroke="#8a8a8a" stroke-width="1" stroke-dasharray="1 5.5"/>
<line x1="834" y1="971.3" x2="842" y2="971.3" stroke="#8a8a8a" stroke-width="1" stroke-dasharray="1 5.5"/>
<line x1="752" y1="984.5" x2="792" y2="984.5" stroke="#8a8a8a" stroke-width="1" stroke-dasharray="1 5.5"/>
<line x1="807" y1="984.5" x2="819" y2="984.5" stroke="#8a8a8a" stroke-width="1" stroke-dasharray="1 5.5"/>
<line x1="834" y1="984.5" x2="842" y2="984.5" stroke="#8a8a8a" stroke-width="1" stroke-dasharray="1 5.5"/>
<line x1="752" y1="1052.7" x2="792" y2="1052.7" stroke="#8a8a8a" stroke-width="1" stroke-dasharray="1 5.5"/>
<line x1="807" y1="1052.7" x2="819" y2="1052.7" stroke="#8a8a8a" stroke-width="1" stroke-dasharray="1 5.5"/>
<line x1="834" y1="1052.7" x2="842" y2="1052.7" stroke="#8a8a8a" stroke-width="1" stroke-dasharray="1 5.5"/>
<line x1="752" y1="1066" x2="792" y2="1066" stroke="#8a8a8a" stroke-width="1" stroke-dasharray="1 5.5"/>
<line x1="807" y1="1066" x2="819" y2="1066" stroke="#8a8a8a" stroke-width="1" stroke-dasharray="1 5.5"/>
<line x1="834" y1="1066" x2="842" y2="1066" stroke="#8a8a8a" stroke-width="1" stroke-dasharray="1 5.5"/>
<line x1="771.6" y1="988" x2="771.6" y2="991" stroke="#8a8a8a" stroke-width="1" stroke-dasharray="1 5.5"/>
<line x1="826.1" y1="988" x2="826.1" y2="991" stroke="#8a8a8a" stroke-width="1" stroke-dasharray="1 5.5"/>
<line x1="798.7" y1="995" x2="798.7" y2="998" stroke="#8a8a8a" stroke-width="1" stroke-dasharray="1 5.5"/>
<line x1="771.6" y1="1046" x2="771.6" y2="1049" stroke="#8a8a8a" stroke-width="1" stroke-dasharray="1 5.5"/>
<line x1="826.1" y1="1046" x2="826.1" y2="1049" stroke="#8a8a8a" stroke-width="1" stroke-dasharray="1 5.5"/>
<line x1="798.7" y1="1040" x2="798.7" y2="1043" stroke="#8a8a8a" stroke-width="1" stroke-dasharray="1 5.5"/>
<line x1="623" y1="600.6" x2="672" y2="600.6" stroke="#8a8a8a" stroke-width="1" stroke-dasharray="1 5.5"/>
<line x1="623" y1="609.4" x2="672" y2="609.4" stroke="#8a8a8a" stroke-width="1" stroke-dasharray="1 5.5"/>
<line x1="623" y1="676.4" x2="672" y2="676.4" stroke="#8a8a8a" stroke-width="1" stroke-dasharray="1 5.5"/>
<line x1="623" y1="685.2" x2="672" y2="685.2" stroke="#8a8a8a" stroke-width="1" stroke-dasharray="1 5.5"/>
<line x1="646" y1="588" x2="646" y2="597" stroke="#8a8a8a" stroke-width="1" stroke-dasharray="1 5.5"/>
<line x1="646" y1="688" x2="646" y2="698" stroke="#8a8a8a" stroke-width="1" stroke-dasharray="1 5.5"/>
<line x1="493" y1="883.3" x2="493" y2="975" stroke="#1e1e1e" stroke-width="1.3"/>
<line x1="508" y1="883.3" x2="508" y2="975" stroke="#1e1e1e" stroke-width="1.3"/>
<line x1="460.8" y1="888.7" x2="475" y2="888.7" stroke="#1e1e1e" stroke-width="1.3"/>
<polygon points="492.50,888.70 474.00,883.95 474.00,893.45" fill="#1a1a1a"/>
<line x1="526" y1="888.7" x2="540" y2="888.7" stroke="#1e1e1e" stroke-width="1.3"/>
<polygon points="508.30,888.70 526.80,883.95 526.80,893.45" fill="#1a1a1a"/>
<line x1="458.7" y1="930.8" x2="458.7" y2="968" stroke="#1e1e1e" stroke-width="1.3"/>
<line x1="473.7" y1="930.8" x2="473.7" y2="968" stroke="#1e1e1e" stroke-width="1.3"/>
<line x1="426.7" y1="935.3" x2="441" y2="935.3" stroke="#1e1e1e" stroke-width="1.3"/>
<polygon points="458.30,935.30 440.00,930.55 440.00,940.05" fill="#1a1a1a"/>
<line x1="491" y1="935.3" x2="505.8" y2="935.3" stroke="#1e1e1e" stroke-width="1.3"/>
<polygon points="474.20,935.30 492.50,930.55 492.50,940.05" fill="#1a1a1a"/>
<line x1="452.4" y1="1064" x2="452.4" y2="1164" stroke="#1e1e1e" stroke-width="1.3"/>
<line x1="466.3" y1="1076" x2="466.3" y2="1164" stroke="#1e1e1e" stroke-width="1.3"/>
<line x1="536.1" y1="1076" x2="536.1" y2="1164" stroke="#1e1e1e" stroke-width="1.3"/>
<line x1="500.6" y1="1070.5" x2="500.6" y2="1110.75" stroke="#1e1e1e" stroke-width="1.3"/>
<line x1="434.1" y1="1102" x2="448" y2="1102" stroke="#1e1e1e" stroke-width="1.3"/>
<polygon points="466.20,1102.00 447.20,1097.25 447.20,1106.75" fill="#1a1a1a"/>
<line x1="519" y1="1102" x2="533" y2="1102" stroke="#1e1e1e" stroke-width="1.3"/>
<polygon points="501.20,1102.00 519.90,1097.25 519.90,1106.75" fill="#1a1a1a"/>
<line x1="467" y1="1159.4" x2="535.6" y2="1159.4" stroke="#1e1e1e" stroke-width="1.3"/>
<polygon points="467.00,1159.40 494.50,1153.90 494.50,1164.90" fill="#1a1a1a"/>
<polygon points="535.60,1159.40 505.90,1153.90 505.90,1164.90" fill="#1a1a1a"/>
<line x1="408.75" y1="1159.4" x2="434" y2="1159.4" stroke="#1e1e1e" stroke-width="1.3"/>
<polygon points="452.15,1159.40 433.15,1154.65 433.15,1164.15" fill="#1a1a1a"/>
<line x1="771.3" y1="881.7" x2="771.3" y2="966.7" stroke="#1e1e1e" stroke-width="1.3"/>
<line x1="825.5" y1="881.7" x2="825.5" y2="966.7" stroke="#1e1e1e" stroke-width="1.3"/>
<line x1="734.2" y1="886.3" x2="746" y2="886.3" stroke="#1e1e1e" stroke-width="1.3"/>
<polygon points="771.30,886.30 745.80,880.55 745.80,892.05" fill="#1a1a1a"/>
<line x1="853" y1="886.3" x2="865" y2="886.3" stroke="#1e1e1e" stroke-width="1.3"/>
<polygon points="825.80,886.30 853.30,880.55 853.30,892.05" fill="#1a1a1a"/>
<line x1="737.2" y1="930" x2="737.2" y2="966" stroke="#1e1e1e" stroke-width="1.3"/>
<line x1="750.8" y1="930" x2="750.8" y2="966" stroke="#1e1e1e" stroke-width="1.3"/>
<line x1="687.5" y1="935.5" x2="711" y2="935.5" stroke="#1e1e1e" stroke-width="1.3"/>
<polygon points="735.80,935.50 710.00,929.75 710.00,941.25" fill="#1a1a1a"/>
<line x1="779" y1="935.5" x2="783.3" y2="935.5" stroke="#1e1e1e" stroke-width="1.3"/>
<polygon points="752.00,935.50 779.20,929.75 779.20,941.25" fill="#1a1a1a"/>
<line x1="818.7" y1="930" x2="818.7" y2="971" stroke="#1e1e1e" stroke-width="1.3"/>
<line x1="832.5" y1="930" x2="832.5" y2="971" stroke="#1e1e1e" stroke-width="1.3"/>
<line x1="787.5" y1="935.5" x2="792" y2="935.5" stroke="#1e1e1e" stroke-width="1.3"/>
<polygon points="817.50,935.50 791.70,929.75 791.70,941.25" fill="#1a1a1a"/>
<line x1="860" y1="935.5" x2="874.2" y2="935.5" stroke="#1e1e1e" stroke-width="1.3"/>
<polygon points="833.30,935.50 860.80,929.75 860.80,941.25" fill="#1a1a1a"/>
<line x1="730.4" y1="1068" x2="730.4" y2="1165" stroke="#1e1e1e" stroke-width="1.3"/>
<line x1="743.9" y1="1080" x2="743.9" y2="1165" stroke="#1e1e1e" stroke-width="1.3"/>
<line x1="798.7" y1="1080" x2="798.7" y2="1140.5" stroke="#1e1e1e" stroke-width="1.3"/>
<line x1="771" y1="1070.5" x2="771" y2="1110.75" stroke="#1e1e1e" stroke-width="1.3"/>
<line x1="700.1" y1="1103.4" x2="717" y2="1103.4" stroke="#1e1e1e" stroke-width="1.3"/>
<polygon points="743.00,1103.40 716.70,1097.90 716.70,1108.90" fill="#1a1a1a"/>
<line x1="798" y1="1103.4" x2="814.75" y2="1103.4" stroke="#1e1e1e" stroke-width="1.3"/>
<polygon points="771.90,1103.40 798.90,1097.90 798.90,1108.90" fill="#1a1a1a"/>
<line x1="701.9" y1="1132.6" x2="717" y2="1132.6" stroke="#1e1e1e" stroke-width="1.3"/>
<polygon points="743.00,1132.60 716.70,1127.10 716.70,1138.10" fill="#1a1a1a"/>
<line x1="826" y1="1133.5" x2="841.9" y2="1133.5" stroke="#1e1e1e" stroke-width="1.3"/>
<polygon points="799.90,1133.50 826.90,1128.00 826.90,1139.00" fill="#1a1a1a"/>
<line x1="687.9" y1="1159.4" x2="703" y2="1159.4" stroke="#1e1e1e" stroke-width="1.3"/>
<polygon points="729.90,1159.40 702.90,1153.90 702.90,1164.90" fill="#1a1a1a"/>
<line x1="771" y1="1159.4" x2="781.5" y2="1159.4" stroke="#1e1e1e" stroke-width="1.3"/>
<polygon points="743.90,1159.40 771.90,1153.90 771.90,1164.90" fill="#1a1a1a"/>
</svg>
</body></html>
